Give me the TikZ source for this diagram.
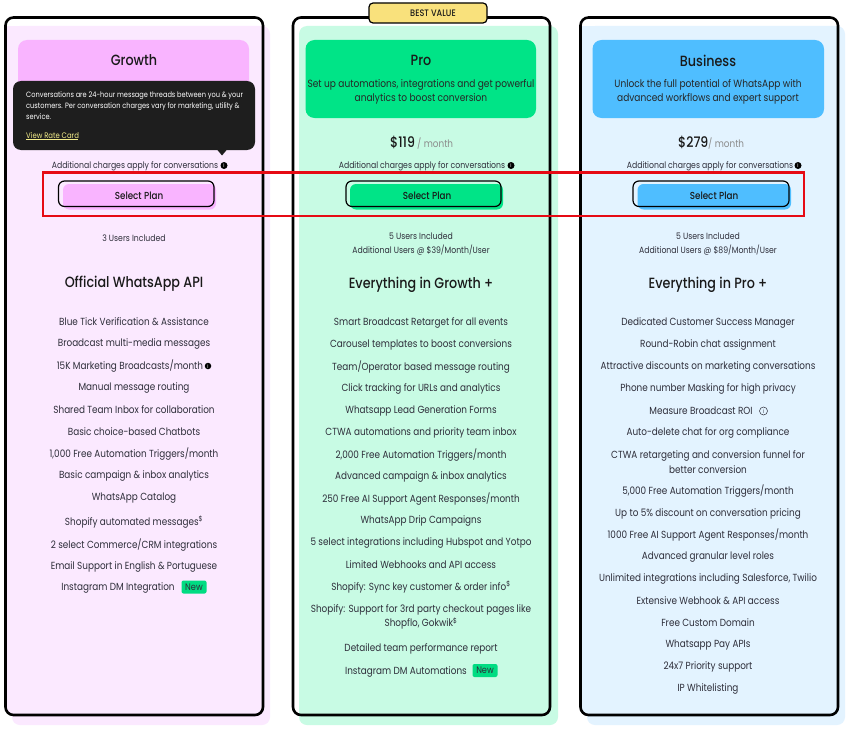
\documentclass[tikz,border=0pt]{standalone}
\usepackage{fontspec}
\setmainfont[FakeStretch=0.86]{Poppins}
\newfontfamily\medf[FakeStretch=0.86]{Poppins Medium}
\definecolor{ink}{HTML}{2E2E3A}
\definecolor{gbg}{HTML}{FBE9FF}
\definecolor{ghd}{HTML}{F9B4FF}
\definecolor{pbg}{HTML}{C8FBE4}
\definecolor{phd}{HTML}{00E487}
\definecolor{bbg}{HTML}{E3F3FF}
\definecolor{bhd}{HTML}{4FBEFF}
\definecolor{tipbg}{HTML}{1E1E1E}
\definecolor{gold}{HTML}{F9E17C}
\definecolor{tiplink}{HTML}{F5EE8A}
\definecolor{newbg}{HTML}{00DC82}
\tikzset{
  x=1pt,y=-1pt,
  frame/.style={draw=black,line width=2.6pt,rounded corners=8pt},
  panel/.style={rounded corners=8pt},
  head/.style={rounded corners=9pt},
  li/.style={inner sep=0pt,yshift=-1pt,text=ink,font=\fontsize{10.3}{12.5}\selectfont,align=center,anchor=center},
  small/.style={inner sep=0pt,yshift=-1pt,text=ink,font=\fontsize{9}{14.5}\selectfont,align=center,anchor=center},
  title/.style={inner sep=0pt,yshift=-.5pt,text=black!90,font=\medf\fontsize{14.8}{17}\selectfont,align=center,anchor=center},
  sub/.style={inner sep=0pt,yshift=-1pt,text=black!85,font=\fontsize{10.5}{14.3}\selectfont,align=center,anchor=center},
  btnfill/.style={rounded corners=6pt},
  btnline/.style={draw=black,line width=1.2pt,rounded corners=6pt},
  btntext/.style={inner sep=0pt,text=black!90,font=\medf\fontsize{10.2}{12}\selectfont,anchor=center},
  infodot/.style={circle,fill=black,text=white,inner sep=0pt,minimum size=7pt,font=\fontsize{5.5}{6}\selectfont},
  infoline/.style={circle,draw=ink,line width=.5pt,text=ink,inner sep=0pt,minimum size=8pt,font=\fontsize{5.5}{6}\selectfont},
  newtag/.style={fill=newbg,rounded corners=2pt,text=ink,inner sep=0pt,minimum width=25pt,minimum height=13pt,font=\fontsize{9.5}{11}\selectfont},
}
\begin{document}
\begin{tikzpicture}
\useasboundingbox (0,0) rectangle (850,733);
\fill[white] (0,0) rectangle (850,733);
% panels
\fill[panel,gbg] (12,26) rectangle (270,725);
\fill[panel,pbg] (299,26) rectangle (558,725);
\fill[panel,bbg] (587,26) rectangle (845,725);
\fill[gbg] (7,26) rectangle (262,713);
\fill[bbg] (582,26) rectangle (836,713);
% frames
\draw[frame] (5.5,17.5) rectangle (263,715);
\draw[frame] (293,17.5) rectangle (550,715);
\draw[frame] (580.5,17.5) rectangle (838,715);
% headers
\fill[head,ghd] (18,40) rectangle (249,118);
\fill[head,phd] (305.5,40) rectangle (536,118);
\fill[head,bhd] (592.5,40) rectangle (824,118);
\node[title] (gt) at (134,60) {Growth};
\node[title] (pt) at (421,60) {Pro};
\node[title] (bt) at (708,60) {Business};
\node[sub] (pd) at (421,91) {Set up automations, integrations and get powerful\\analytics to boost conversion};
\node[sub] (bd) at (708,91) {Unlock the full potential of WhatsApp with\\advanced workflows and expert support};
% badge
\draw[draw=black,line width=1.2pt,fill=gold,rounded corners=4pt] (369,3) rectangle (487,23);
\node[inner sep=0pt,text=black!90,font=\medf\fontsize{9.4}{10}\selectfont] (bv) at (433,13.5) {BEST VALUE};
% prices
\node[inner sep=0pt,anchor=base west,font=\medf\fontsize{14.5}{16}\selectfont,text=black!90] (pp) at (390,147) {\$119};
\node[inner sep=0pt,anchor=base west,font=\fontsize{10.3}{12}\selectfont,text=black!45] (pm) at (417,147) {/ month};
\node[inner sep=0pt,anchor=base west,font=\medf\fontsize{14.5}{16}\selectfont,text=black!90] (bp) at (678,147) {\$279};
\node[inner sep=0pt,anchor=base west,font=\fontsize{10.3}{12}\selectfont,text=black!45] (bm) at (708,147) {/ month};
% additional charges
\node[small] (ga) at (135,165.5) {Additional charges apply for conversations};
\node[small] (pa) at (422,165.5) {Additional charges apply for conversations};
\node[small] (ba) at (710,165.5) {Additional charges apply for conversations};
\node[infodot] (gi) at (224,165.5) {i};
\node[infodot] (pi) at (511,165.5) {i};
\node[infodot] (bi) at (798,165.5) {i};
% buttons
\fill[btnfill,ghd] (63,184) rectangle (216,209.5);
\draw[btnline] (58.5,181) rectangle (214,206.5);
\fill[btnfill,phd] (350,184) rectangle (503,209.5);
\draw[btnline] (346,181) rectangle (501,206.5);
\fill[btnfill,bhd] (637.5,184) rectangle (791,209.5);
\draw[btnline] (633,181) rectangle (789,206.5);
\node[btntext] (gb) at (139,196) {Select Plan};
\node[btntext] (pb) at (427,196) {Select Plan};
\node[btntext] (bb) at (714,196) {Select Plan};
% users
\node[small] (gu) at (134,237) {3 Users Included};
\node[small] (pu) at (421,243) {5 Users Included\\Additional Users @ \$39/Month/User};
\node[small] (bu) at (708,243) {5 Users Included\\Additional Users @ \$89/Month/User};
% headings
\node[title] (gh) at (134,283) {Official WhatsApp API};
\node[title] (ph) at (421,284) {Everything in Growth +};
\node[title] (bh) at (708,284) {Everything in Pro +};
% Growth list
\node[li] (g1) at (134,321) {Blue Tick Verification \& Assistance};
\node[li] (g2) at (134,343) {Broadcast multi-media messages};
\node[li] (g3) at (130,365.5) {15K Marketing Broadcasts/month};
\node[infodot,minimum size=6.5pt] (g3i) at (208,366) {i};
\node[li] (g4) at (134,387) {Manual message routing};
\node[li] (g5) at (134,409) {Shared Team Inbox for collaboration};
\node[li] (g6) at (134,431) {Basic choice-based Chatbots};
\node[li] (g7) at (134,453) {1,000 Free Automation Triggers/month};
\node[li] (g8) at (134,475) {Basic campaign \& inbox analytics};
\node[li] (g9) at (134,497) {WhatsApp Catalog};
\node[li] (g10) at (134,521) {Shopify automated messages\textsuperscript{\$}};
\node[li] (g11) at (134,544) {2 select Commerce/CRM integrations};
\node[li] (g12) at (134,565.5) {Email Support in English \& Portuguese};
\node[li] (g13) at (118,587) {Instagram DM Integration};
\node[newtag] (g13n) at (194,587) {New};
% Pro list
\node[li] (p1) at (421,322) {Smart Broadcast Retarget for all events};
\node[li] (p2) at (421,344) {Carousel templates to boost conversions};
\node[li] (p3) at (421,366) {Team/Operator based message routing};
\node[li] (p4) at (421,388) {Click tracking for URLs and analytics};
\node[li] (p5) at (421,410) {Whatsapp Lead Generation Forms};
\node[li] (p6) at (421,432) {CTWA automations and priority team inbox};
\node[li] (p7) at (421,454) {2,000 Free Automation Triggers/month};
\node[li] (p8) at (421,476) {Advanced campaign \& inbox analytics};
\node[li] (p9) at (421,498) {250 Free AI Support Agent Responses/month};
\node[li] (p10) at (421,520) {WhatsApp Drip Campaigns};
\node[li] (p11) at (421,542) {5 select integrations including Hubspot and Yotpo};
\node[li] (p12) at (421,564) {Limited Webhooks and API access};
\node[li] (p13) at (421,586) {Shopify: Sync key customer \& order info\textsuperscript{\$}};
\node[li,font=\fontsize{10.3}{14.3}\selectfont] (p14) at (421,616) {Shopify: Support for 3rd party checkout pages like\\Shopflo, Gokwik\textsuperscript{\$}};
\node[li] (p15) at (421,648) {Detailed team performance report};
\node[li] (p16) at (406,670.5) {Instagram DM Automations};
\node[newtag] (p16n) at (485,670.5) {New};
% Business list
\node[li] (b1) at (708,322) {Dedicated Customer Success Manager};
\node[li] (b2) at (708,344) {Round-Robin chat assignment};
\node[li] (b3) at (708,366) {Attractive discounts on marketing conversations};
\node[li] (b4) at (708,388) {Phone number Masking for high privacy};
\node[li] (b5) at (701,410) {Measure Broadcast ROI};
\node[infoline] (b5i) at (763.5,411) {i};
\node[li] (b6) at (708,432) {Auto-delete chat for org compliance};
\node[li,font=\fontsize{10.3}{14.3}\selectfont] (b7) at (708,461) {CTWA retargeting and conversion funnel for\\better conversion};
\node[li] (b8) at (708,490) {5,000 Free Automation Triggers/month};
\node[li] (b9) at (708,512.5) {Up to 5\% discount on conversation pricing};
\node[li] (b10) at (708,534) {1000 Free AI Support Agent Responses/month};
\node[li] (b11) at (708,556.5) {Advanced granular level roles};
\node[li] (b12) at (708,578) {Unlimited integrations including Salesforce, Twilio};
\node[li] (b13) at (708,600) {Extensive Webhook \& API access};
\node[li] (b14) at (708,621.5) {Free Custom Domain};
\node[li] (b15) at (708,644) {Whatsapp Pay APIs};
\node[li] (b16) at (708,666) {24x7 Priority support};
\node[li] (b17) at (708,688) {IP Whitelisting};
% tooltip
\fill[tipbg,rounded corners=8pt] (13,81) rectangle (255,150);
\fill[tipbg] (217,149.5) -- (227,149.5) -- (222,155.5) -- cycle;
\node[inner sep=0pt,anchor=north west,align=left,text=white,font=\fontsize{7.7}{11}\selectfont] (tip) at (26,91.5) {Conversations are 24-hour message threads between you \& your\\customers. Per conversation charges vary for marketing, utility \&\\service.};
\node[inner sep=0pt,anchor=base west,text=tiplink,font=\fontsize{8}{9}\selectfont] (rate) at (26,138) {View Rate Card};
\draw[tiplink,line width=.5pt] (rate.south west) ++(0,.8) -- ++(52,0);
% red highlight
\draw[draw={rgb,255:red,230;green,10;blue,20},line width=2.2pt] (43,172.5) rectangle (804,216);
\end{tikzpicture}
\end{document}
